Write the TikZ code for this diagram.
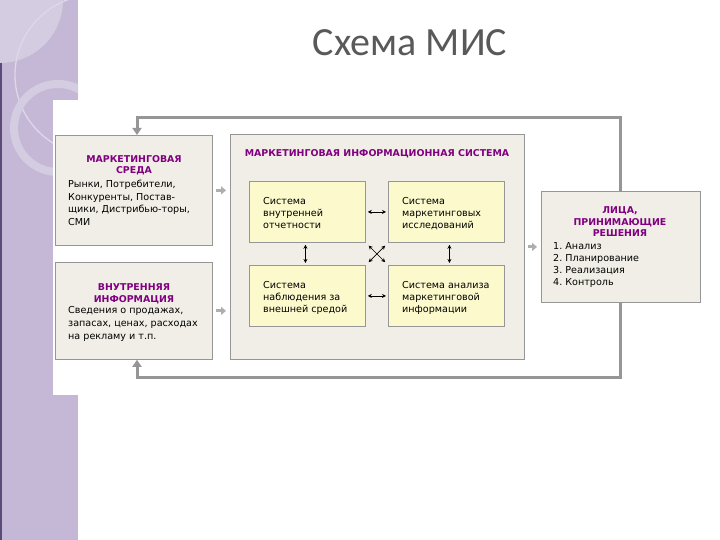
\documentclass[tikz,border=0pt]{standalone}
\usepackage{fontspec}
\newfontfamily\dv{DejaVu Sans}
\newfontfamily\ttl{Carlito}
\usetikzlibrary{arrows.meta}
\definecolor{band}{RGB}{196,184,214}
\definecolor{bandlight}{RGB}{212,204,225}
\definecolor{bandarc}{RGB}{222,216,234}
\definecolor{banddark}{RGB}{90,75,120}
\definecolor{boxfill}{RGB}{240,238,230}
\definecolor{ylw}{RGB}{252,250,204}
\definecolor{edge}{RGB}{150,150,150}
\definecolor{hdr}{RGB}{128,0,128}
\definecolor{ttlgray}{RGB}{89,89,89}
\definecolor{fbline}{RGB}{150,150,150}
\definecolor{blk}{RGB}{175,175,175}
\tikzset{
  panel/.style={draw=edge, fill=boxfill, line width=0.8pt, anchor=north west, inner sep=0pt},
  ybox/.style={draw=edge, fill=ylw, line width=0.8pt, anchor=north west, inner sep=0pt, minimum width=116pt, minimum height=61pt},
  hdrtxt/.style={font=\dv\bfseries\fontsize{9.4}{11.5}\selectfont, text=hdr, align=center, inner sep=0pt},
  bodytxt/.style={font=\dv\fontsize{9.6}{12.6}\selectfont, align=left, inner sep=0pt, anchor=north west},
  ytxt/.style={font=\dv\fontsize{9.6}{11.7}\selectfont, align=left, inner sep=0pt, anchor=north west},
  fb/.style={draw=fbline, line width=3pt, -{Triangle[width=9pt,length=7pt]}},
  sarr/.style={draw=blk, line width=3pt, -{Triangle[width=8pt,length=5pt]}},
  darr/.style={draw=black, line width=0.7pt, {Stealth[length=4pt,width=4pt]}-{Stealth[length=4pt,width=4pt]}}
}
\begin{document}
\begin{tikzpicture}[x=1pt,y=-1pt]
\useasboundingbox (0,0) rectangle (720,540);
\fill[white] (0,0) rectangle (720,540);
% left decorative band
\fill[band] (0,0) rectangle (78,540);
\begin{scope}
\clip (0,0) rectangle (78,540);
\fill[bandlight] (0,0) circle (63);
\draw[bandarc, line width=1.3pt] (95,75) circle (80);
\draw[bandlight, line width=8pt] (58,128) circle (44);
\end{scope}
\draw[banddark, line width=1.5pt] (0.75,63) -- (0.75,540);
\fill[white] (53,100) rectangle (78,395);
% title
\node[font=\ttl\fontsize{40}{42}\selectfont, text=ttlgray] (title) at (410,43) {Схема МИС};
% panels
\node[panel, minimum width=157pt, minimum height=110pt] (env) at (55,135) {};
\node[panel, minimum width=157pt, minimum height=97pt] (inf) at (55,262) {};
\node[panel, minimum width=294pt, minimum height=225pt] (mis) at (230,134) {};
\node[panel, minimum width=159pt, minimum height=111pt] (lpr) at (541,191) {};
\node[ybox] (y1) at (249,181) {};
\node[ybox] (y2) at (388,181) {};
\node[ybox] (y3) at (249,265) {};
\node[ybox] (y4) at (388,265) {};
% texts
\node[hdrtxt] (envh) at (134,165) {МАРКЕТИНГОВАЯ\\СРЕДА};
\node[bodytxt] (envb) at (68,180) {Рынки, Потребители,\\Конкуренты, Постав-\\щики, Дистрибью-торы,\\СМИ};
\node[hdrtxt] (infh) at (134,294) {ВНУТРЕННЯЯ\\ИНФОРМАЦИЯ};
\node[bodytxt] (infb) at (68,306.5) {Сведения о продажах,\\запасах, ценах, расходах\\на рекламу и т.п.};
\node[hdrtxt] (mish) at (377,154) {МАРКЕТИНГОВАЯ ИНФОРМАЦИОННАЯ СИСТЕМА};
\node[ytxt] (t1) at (263,197.5) {Система\\внутренней\\отчетности};
\node[ytxt] (t2) at (402,197.5) {Система\\маркетинговых\\исследований};
\node[ytxt] (t3) at (263,281.5) {Система\\наблюдения за\\внешней средой};
\node[ytxt] (t4) at (402,281.5) {Система анализа\\маркетинговой\\информации};
\node[hdrtxt] (lprh) at (620,222) {ЛИЦА,\\ПРИНИМАЮЩИЕ\\РЕШЕНИЯ};
\node[ytxt, font=\dv\fontsize{9.6}{12}\selectfont] (lprb) at (553,242) {1.\ Анализ\\2.\ Планирование\\3.\ Реализация\\4.\ Контроль};
% feedback loops
\coordinate (tl) at (137,118);
\coordinate (bl) at (137,377);
\draw[fb] (lpr.north) -- (lpr.north |- tl) -- (tl) -- (tl |- env.north);
\draw[fb] (lpr.south) -- (lpr.south |- bl) -- (bl) -- (bl |- inf.south);
% small block arrows
\draw[sarr] ([xshift=3pt]env.east) -- ([xshift=-4pt]mis.west |- env.east);
\draw[sarr] ([xshift=3pt]inf.east) -- ([xshift=-4pt]mis.west |- inf.east);
\draw[sarr] ([xshift=3pt]mis.east |- lpr.west) -- ([xshift=-4pt]lpr.west);
% internal double arrows
\draw[darr, shorten <=2pt, shorten >=2pt] (y1.east) -- (y2.west);
\draw[darr, shorten <=2pt, shorten >=2pt] (y3.east) -- (y4.west);
\draw[darr, shorten <=2pt, shorten >=2pt] ([xshift=-2pt]y1.south) -- ([xshift=-2pt]y3.north);
\draw[darr, shorten <=2pt, shorten >=2pt] ([xshift=3pt]y2.south) -- ([xshift=3pt]y4.north);
\draw[darr, shorten <=4pt, shorten >=4pt] (y1.south east) -- (y4.north west);
\draw[darr, shorten <=4pt, shorten >=4pt] (y2.south west) -- (y3.north east);
\end{tikzpicture}
\end{document}
